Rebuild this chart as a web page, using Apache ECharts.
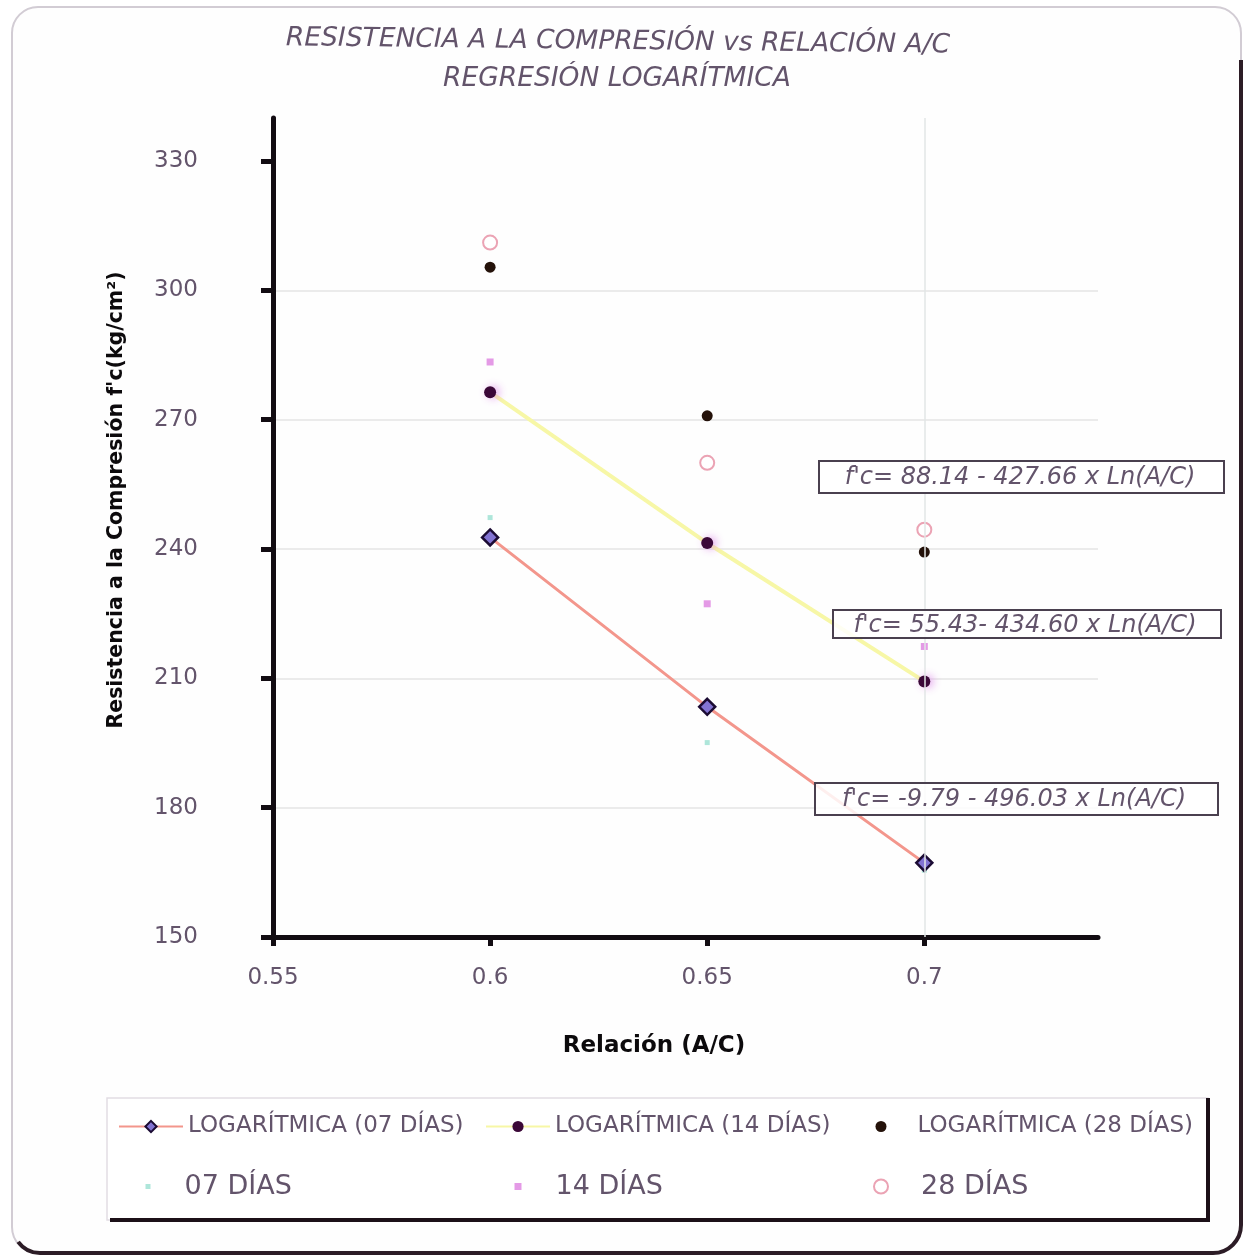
<!DOCTYPE html>
<html>
<head>
<meta charset="utf-8">
<script src="https://cdn.jsdelivr.net/npm/echarts@6/dist/echarts.min.js"></script>
<style>html,body{margin:0;padding:0;background:#fff}#c{width:1248px;height:1259px}</style>
</head>
<body>
<div id="c"></div>
<script>
// ---- data ----
const xTicks = [0.55, 0.6, 0.65, 0.7];
const yTicks = [150, 180, 210, 240, 270, 300, 330];
const ratios = [0.6, 0.65, 0.7];
const log07 = [242.7, 203.4, 167.2];
const log14 = [276.4, 241.4, 209.3];
const log28 = [305.4, 270.9, 239.3];
const dias07 = [247.3, 195.1, 165.5];
const dias14 = [283.4, 227.3, 217.4];
const dias28 = [311.1, 260.0, 244.5];
const seriesNames = ['LOGARÍTMICA (07 DÍAS)', 'LOGARÍTMICA (14 DÍAS)', 'LOGARÍTMICA (28 DÍAS)', '07 DÍAS', '14 DÍAS', '28 DÍAS'];
const equations = ["f'c= 88.14 - 427.66 x Ln(A/C)", "f'c= 55.43- 434.60 x Ln(A/C)", "f'c= -9.79 - 496.03 x Ln(A/C)"];
const titleLines = ['RESISTENCIA A LA COMPRESIÓN vs RELACIÓN A/C', 'REGRESIÓN LOGARÍTMICA'];
const yName = "Resistencia a la Compresión f'c(kg/cm²)";
const xName = 'Relación (A/C)';

const pair = (ys) => ratios.map((x, i) => [x, ys[i]]);
const txtColor = '#63546b';
const font = 'DejaVu Sans';

const chart = echarts.init(document.getElementById('c'), null, {renderer: 'canvas'});

function legendAt(name, left, top, size, w, h, padLeft) {
  return {
    data: [name], left: left, top: top, orient: 'horizontal',
    itemWidth: w, itemHeight: h, itemGap: 0, padding: 0,
    textStyle: {color: txtColor, fontFamily: font, fontSize: size, padding: [0, 0, 0, padLeft]}
  };
}

const option = {
  backgroundColor: '#ffffff',
  animation: false,
  grid: {left: 273, right: 150, top: 118, bottom: 322, containLabel: false},
  xAxis: {
    type: 'value', min: 0.55, max: 0.74, interval: 0.05,
    axisLine: {show: true, lineStyle: {color: '#120c12', width: 5, cap: 'round'}},
    axisTick: {show: true, length: 9, lineStyle: {color: '#120c12', width: 5}, customValues: xTicks},
    axisLabel: {color: txtColor, fontFamily: font, fontSize: 23, margin: 30, customValues: xTicks,
      formatter: v => String(Math.round(v * 100) / 100)},
    splitLine: {show: false}
  },
  yAxis: {
    type: 'value', min: 150, max: 340, interval: 30,
    axisLine: {show: true, lineStyle: {color: '#120c12', width: 5, cap: 'round'}},
    axisTick: {show: true, length: 12, lineStyle: {color: '#120c12', width: 5}, customValues: yTicks},
    axisLabel: {color: txtColor, fontFamily: font, fontSize: 23, margin: 75, customValues: yTicks},
    splitLine: {show: true, showMaxLine: false, lineStyle: {color: '#e4e4e4', width: 1.5}}
  },
  legend: [
    legendAt(seriesNames[0], 118, 1115, 23, 64, 14, 0),
    legendAt(seriesNames[1], 485, 1115, 23, 64, 14, 0),
    legendAt(seriesNames[2], 875.5, 1115, 23, 11, 11, 26),
    legendAt(seriesNames[3], 145.5, 1173, 27, 5, 5, 29),
    legendAt(seriesNames[4], 514.5, 1173, 27, 7, 7, 29),
    legendAt(seriesNames[5], 873, 1173, 27, 14, 14, 28)
  ],
  series: [
    {
      name: seriesNames[3], type: 'scatter', data: pair(dias07), z: 2,
      symbol: 'rect', symbolSize: 5, itemStyle: {color: '#aee6da', opacity: 1},
      markLine: {silent: true, symbol: 'none', label: {show: false},
        lineStyle: {color: '#e2e6e6', type: 'solid', width: 1.5}, data: [{xAxis: 0.7}]}
    },
    {
      name: seriesNames[4], type: 'scatter', data: pair(dias14), z: 2,
      symbol: 'rect', symbolSize: 7, itemStyle: {color: '#e49ae6', opacity: 1}
    },
    {
      name: seriesNames[5], type: 'scatter', data: pair(dias28), z: 2,
      symbol: 'circle', symbolSize: 14,
      itemStyle: {color: '#ffffff', borderColor: '#eba3b4', borderWidth: 2, opacity: 1}
    },
    {
      name: seriesNames[1], type: 'line', data: pair(log14), z: 3,
      symbol: 'circle', symbolSize: 12, showAllSymbol: true,
      lineStyle: {color: '#f7f7a6', width: 4},
      itemStyle: {color: '#3b0838', shadowColor: 'rgba(225,150,235,0.9)', shadowBlur: 8, shadowOffsetX: 3}
    },
    {
      name: seriesNames[2], type: 'scatter', data: pair(log28), z: 3,
      symbol: 'circle', symbolSize: 11, itemStyle: {color: '#24120a', opacity: 1}
    },
    {
      name: seriesNames[0], type: 'line', data: pair(log07), z: 4,
      symbol: 'diamond', symbolSize: 16, showAllSymbol: true,
      lineStyle: {color: '#f3968c', width: 3},
      itemStyle: {color: '#8273d2', borderColor: '#1b0b33', borderWidth: 2.5}
    }
  ],
  graphic: [
    // outer frame
    {type: 'rect', silent: true, z: -10, shape: {x: 12, y: 7, width: 1229, height: 1246, r: 26},
      style: {fill: '#fefefe', stroke: '#d2ccd4', lineWidth: 2}},
    {type: 'polyline', silent: true, z: -9,
      shape: {points: [[1241, 60], [1241, 1225]]},
      style: {fill: null, stroke: '#2c1c26', lineWidth: 4}},
    {type: 'arc', silent: true, z: -9,
      shape: {cx: 1213, cy: 1225, r: 28, startAngle: 0, endAngle: Math.PI / 2},
      style: {fill: null, stroke: '#2c1c26', lineWidth: 4}},
    {type: 'polyline', silent: true, z: -9,
      shape: {points: [[1213, 1253], [40, 1253]]},
      style: {fill: null, stroke: '#2c1c26', lineWidth: 4}},
    {type: 'arc', silent: true, z: -9,
      shape: {cx: 40, cy: 1226, r: 27, startAngle: Math.PI / 2, endAngle: Math.PI * 0.8},
      style: {fill: null, stroke: '#2c1c26', lineWidth: 4}},
    // title
    {type: 'text', x: 618, y: 42, rotation: -0.011, silent: true,
      style: {text: titleLines[0], fill: txtColor, font: 'italic 26.5px "DejaVu Sans"', align: 'center', verticalAlign: 'middle'}},
    {type: 'text', x: 617, y: 79, silent: true,
      style: {text: titleLines[1], fill: txtColor, font: 'italic 26.5px "DejaVu Sans"', align: 'center', verticalAlign: 'middle'}},
    // axis names
    {type: 'text', x: 117, y: 500, rotation: Math.PI / 2, silent: true,
      style: {text: yName, fill: '#0c0a0c', font: 'bold 20.5px "DejaVu Sans"', align: 'center', verticalAlign: 'middle'}},
    {type: 'text', x: 654, y: 1046, silent: true,
      style: {text: xName, fill: '#0c0a0c', font: 'bold 23px "DejaVu Sans"', align: 'center', verticalAlign: 'middle'}},
    // equation boxes
    {type: 'rect', silent: true, z: 10, shape: {x: 819, y: 461, width: 405, height: 32},
      style: {fill: '#ffffff', stroke: '#4a404f', lineWidth: 2}},
    {type: 'text', silent: true, z: 11, x: 1020, y: 478,
      style: {text: equations[0], fill: txtColor, font: 'italic 24px "DejaVu Sans"', align: 'center', verticalAlign: 'middle'}},
    {type: 'rect', silent: true, z: 10, shape: {x: 833, y: 610, width: 388, height: 28},
      style: {fill: 'rgba(255,255,255,0.85)', stroke: '#4a404f', lineWidth: 2}},
    {type: 'text', silent: true, z: 11, x: 1025, y: 626,
      style: {text: equations[1], fill: txtColor, font: 'italic 24px "DejaVu Sans"', align: 'center', verticalAlign: 'middle'}},
    {type: 'rect', silent: true, z: 10, shape: {x: 815, y: 783, width: 403, height: 32},
      style: {fill: 'rgba(255,255,255,0.85)', stroke: '#4a404f', lineWidth: 2}},
    {type: 'text', silent: true, z: 11, x: 1014, y: 800,
      style: {text: equations[2], fill: txtColor, font: 'italic 24px "DejaVu Sans"', align: 'center', verticalAlign: 'middle'}},
    // legend box
    {type: 'rect', silent: true, z: -5, shape: {x: 107, y: 1098, width: 1101, height: 122},
      style: {fill: '#ffffff', stroke: '#e2dde4', lineWidth: 1.5}},
    {type: 'polyline', silent: true, z: -4,
      shape: {points: [[1208, 1098], [1208, 1220], [110, 1220]]},
      style: {fill: null, stroke: '#1c1018', lineWidth: 4}}
  ]
};
chart.setOption(option);
</script>
</body>
</html>
